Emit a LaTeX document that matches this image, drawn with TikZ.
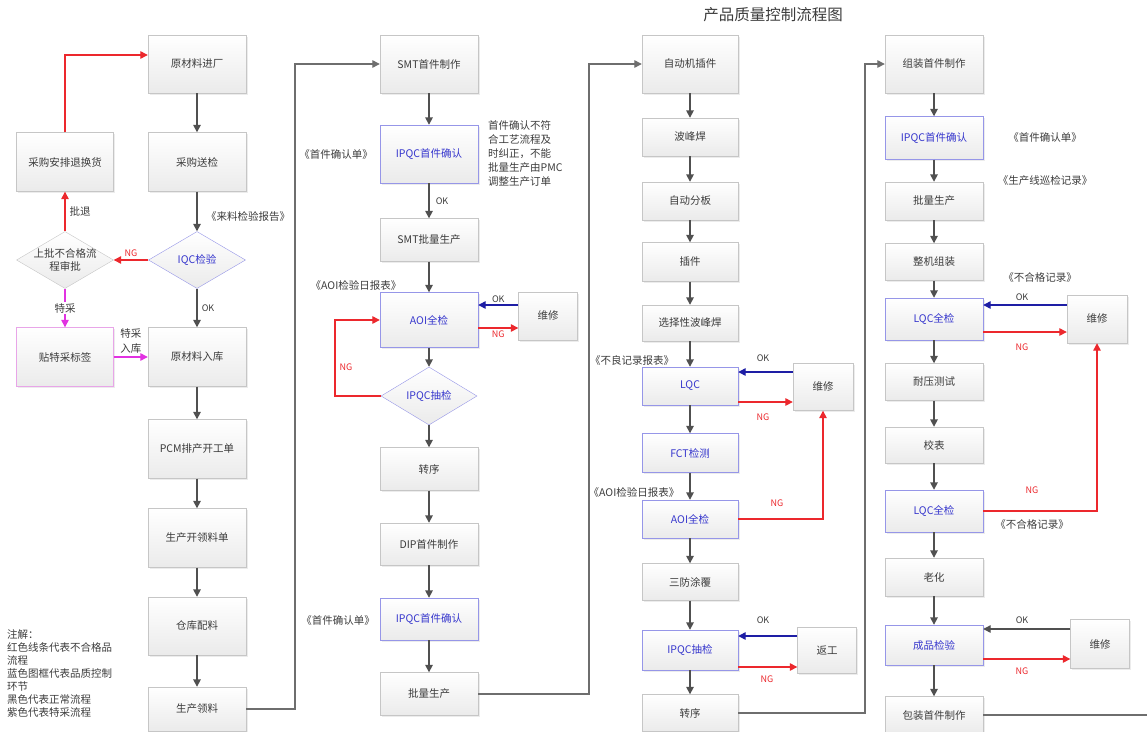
\documentclass[tikz,border=0pt]{standalone}
\usepackage{fontspec}
\setmainfont{Noto Sans CJK SC}
\usetikzlibrary{shapes.geometric,arrows.meta,shadows}

\definecolor{boxline}{RGB}{198,198,198}
\definecolor{qcline}{RGB}{150,150,232}
\definecolor{qctext}{RGB}{55,55,205}
\definecolor{txt}{RGB}{60,60,60}
\definecolor{flow}{RGB}{80,80,80}
\definecolor{ngred}{RGB}{236,40,45}
\definecolor{okblue}{RGB}{30,30,165}
\definecolor{tcpink}{RGB}{225,50,225}
\definecolor{tcline}{RGB}{232,165,232}
\definecolor{linkgray}{RGB}{110,110,110}

\tikzset{
  box/.style={draw=boxline, top color=white, bottom color=gray!16, text=txt,
    minimum width=98pt, inner sep=2pt, font=\fontsize{10.5}{12}\selectfont,
    drop shadow={opacity=0.15, shadow xshift=1.5pt, shadow yshift=-1.5pt}},
  qcbox/.style={box, draw=qcline, text=qctext},
  tcbox/.style={box, draw=tcline},
  judge/.style={diamond, aspect=1.7, draw=boxline, top color=white, bottom color=gray!16,
    text=txt, inner sep=0pt, inner xsep=-14pt, minimum width=97pt, minimum height=57pt,
    align=center, font=\fontsize{10.5}{13}\selectfont},
  flowarrow/.style={draw=flow, line width=1.6pt, -{Triangle[width=7.5pt,length=7.5pt]}},
  ngarrow/.style={draw=ngred, line width=1.3pt, -{Triangle[width=7.5pt,length=7.5pt]}},
  okarrow/.style={draw=okblue, line width=1.3pt, -{Triangle[width=7.5pt,length=7.5pt]}},
  tcarrow/.style={draw=tcpink, line width=1.3pt, -{Triangle[width=7.5pt,length=7.5pt]}},
  link/.style={draw=linkgray, line width=1.3pt},
  linkarrow/.style={link, -{Triangle[width=7.5pt,length=7.5pt]}},
  note/.style={text=txt, inner sep=1pt, font=\fontsize{10.5}{12}\selectfont},
  nglabel/.style={text=ngred, inner sep=1pt, font=\fontsize{9}{10}\selectfont},
  oklabel/.style={text=txt, inner sep=1pt, font=\fontsize{9}{10}\selectfont}
}

\begin{document}
\begin{tikzpicture}[x=1pt,y=-1pt]
\fill[white] (0,0) rectangle (1147,731);
\useasboundingbox (0,0) rectangle (1147,731);

\node[text=txt, font=\fontsize{15.5}{18}\selectfont] (title) at (773,15) {产品质量控制流程图};

\node[box, minimum height=58pt] (ycl) at (197,64) {原材料进厂};
\node[box, minimum height=59pt] (cgsj) at (197,162) {采购送检};
\node[box, minimum width=97pt, minimum height=59pt] (cgth) at (65,162) {采购安排退换货};
\node[judge, draw=qcline, text=qctext] (iqc) at (197,260) {IQC检验};
\node[judge] (spsp) at (65,260) {上批不合格流\\程审批};
\node[tcbox, minimum width=97pt, minimum height=59pt] (ttbq) at (65,357) {贴特采标签};
\node[box, minimum height=59pt] (ycrk) at (197,357) {原材料入库};
\node[box, minimum height=59pt] (pcm) at (197,449) {PCM排产开工单};
\node[box, minimum height=59pt] (kld) at (197,538) {生产开领料单};
\node[box, minimum height=58pt] (ckpl) at (197,626) {仓库配料};
\node[box, minimum height=44pt] (scll) at (197,709) {生产领料};
\node[note] (lljy) at (248,217) {《来料检验报告》};
\node[note, anchor=north west, align=left, font=\fontsize{10.5}{13}\selectfont] (zhujie) at (6,628)
  {注解：\\红色线条代表不合格品\\流程\\蓝色图框代表品质控制\\环节\\黑色代表正常流程\\紫色代表特采流程};

\draw[flowarrow] (ycl.south) -- (cgsj.north);
\draw[flowarrow] (cgsj.south) -- (iqc.north);
\draw[flowarrow] (iqc.south) -- (ycrk.north) node[oklabel, midway, right=3pt] {OK};
\draw[ngarrow] (iqc.west) -- (spsp.east) node[nglabel, midway, above=2pt] {NG};
\draw[ngarrow] (spsp.north) -- (cgth.south) node[note, midway, right=3pt] {批退};
\draw[ngarrow] (cgth.north) |- ([yshift=9pt]ycl.west);
\draw[tcarrow] (spsp.south) -- (ttbq.north) node[note, midway, fill=white] {特采};
\draw[tcarrow] (ttbq.east) -- (ycrk.west) node[note, midway, above=2pt, align=center, font=\fontsize{10.5}{15}\selectfont] {特采\\入库};
\draw[flowarrow] (ycrk.south) -- (pcm.north);
\draw[flowarrow] (pcm.south) -- (kld.north);
\draw[flowarrow] (kld.south) -- (ckpl.north);
\draw[flowarrow] (ckpl.south) -- (scll.north);

\node[box, minimum height=58pt] (smtsj) at (429,64) {SMT首件制作};
\node[qcbox, minimum height=58pt] (ipqcsj) at (429,154) {IPQC首件确认};
\node[box, minimum height=43pt] (smtpl) at (429,240) {SMT批量生产};
\node[qcbox, minimum height=55pt] (aoiqj) at (429,320) {AOI全检};
\node[box, minimum width=59pt, minimum height=48pt] (wxa) at (548,316) {维修};
\node[judge, draw=qcline, text=qctext, minimum width=96pt, minimum height=58pt] (ipqccj) at (429,396) {IPQC抽检};
\node[box, minimum height=43pt] (zxa) at (429,469) {转序};
\node[box, minimum height=42pt] (dipsj) at (429,544) {DIP首件制作};
\node[qcbox, minimum height=42pt] (ipqcqr) at (429,619) {IPQC首件确认};
\node[box, minimum height=43pt] (plsca) at (429,694) {批量生产};
\node[note] (qrda) at (336,155) {《首件确认单》};
\node[note] (aoirb) at (356,285) {《AOI检验日报表》};
\node[note] (qrdb) at (338,620) {《首件确认单》};
\node[note, anchor=north west, align=left, font=\fontsize{10.5}{14}\selectfont] (smsm) at (487,119)
  {首件确认不符\\合工艺流程及\\时纠正，不能\\批量生产由PMC\\调整生产订单};
\coordinate (zza) at (295,64);
\coordinate (fxa) at (335,320);

\draw[linkarrow] (scll.east) -| (zza) -- (smtsj.west);
\draw[flowarrow] (smtsj.south) -- (ipqcsj.north);
\draw[flowarrow] (ipqcsj.south) -- (smtpl.north) node[oklabel, midway, right=5pt] {OK};
\draw[flowarrow] (smtpl.south) -- (aoiqj.north);
\draw[flowarrow] (aoiqj.south) -- (ipqccj.north);
\draw[flowarrow] (ipqccj.south) -- (zxa.north);
\draw[flowarrow] (zxa.south) -- (dipsj.north);
\draw[flowarrow] (dipsj.south) -- (ipqcqr.north);
\draw[flowarrow] (ipqcqr.south) -- (plsca.north);
\draw[okarrow] ([yshift=15pt]aoiqj.east -| wxa.west) -- ([yshift=15pt]aoiqj.east) node[oklabel, midway, above=1pt] {OK};
\draw[ngarrow] ([yshift=-8pt]aoiqj.east) -- ([yshift=-8pt]aoiqj.east -| wxa.west) node[nglabel, midway, below=1pt] {NG};
\draw[ngarrow] (ipqccj.west) -| (fxa) -- (aoiqj.west);
\node[nglabel] (nga) at (346,367) {NG};

\node[box, minimum width=96pt, minimum height=58pt] (zdjcj) at (690,64) {自动机插件};
\node[box, minimum width=96pt, minimum height=38pt] (bfh) at (690,137) {波峰焊};
\node[box, minimum width=96pt, minimum height=38pt] (zdfb) at (690,201) {自动分板};
\node[box, minimum width=96pt, minimum height=39pt] (chaj) at (690,262) {插件};
\node[box, minimum width=96pt, minimum height=36pt] (xzbfh) at (690,323) {选择性波峰焊};
\node[qcbox, minimum width=96pt, minimum height=38pt] (lqc) at (690,386) {LQC};
\node[box, minimum width=60pt, minimum height=47pt] (wxb) at (823,387) {维修};
\node[qcbox, minimum width=96pt, minimum height=39pt] (fct) at (690,453) {FCT检测};
\node[qcbox, minimum width=96pt, minimum height=38pt] (aoiqjb) at (690,519) {AOI全检};
\node[box, minimum width=96pt, minimum height=37pt] (sfty) at (690,582) {三防涂覆};
\node[qcbox, minimum width=96pt, minimum height=40pt] (ipqccjb) at (690,650) {IPQC抽检};
\node[box, minimum width=59pt, minimum height=46pt] (fangong) at (827,650) {返工};
\node[box, minimum width=96pt, minimum height=37pt] (zxb) at (690,713) {转序};
\node[note] (blbb) at (632,360) {《不良记录报表》};
\node[note] (aoirbb) at (634,492) {《AOI检验日报表》};
\coordinate (zzb) at (589,64);

\draw[linkarrow] (plsca.east) -| (zzb) -- (zdjcj.west);
\draw[flowarrow] (zdjcj.south) -- (bfh.north);
\draw[flowarrow] (bfh.south) -- (zdfb.north);
\draw[flowarrow] (zdfb.south) -- (chaj.north);
\draw[flowarrow] (chaj.south) -- (xzbfh.north);
\draw[flowarrow] (xzbfh.south) -- (lqc.north);
\draw[flowarrow] (lqc.south) -- (fct.north);
\draw[flowarrow] (fct.south) -- (aoiqjb.north);
\draw[flowarrow] (aoiqjb.south) -- (sfty.north);
\draw[flowarrow] (sfty.south) -- (ipqccjb.north);
\draw[flowarrow] (ipqccjb.south) -- (zxb.north);
\draw[okarrow] ([yshift=14pt]lqc.east -| wxb.west) -- ([yshift=14pt]lqc.east);
\draw[ngarrow] ([yshift=-16pt]lqc.east) -- ([yshift=-16pt]lqc.east -| wxb.west);
\draw[ngarrow] (aoiqjb.east) -| (wxb.south);
\draw[okarrow] ([yshift=14pt]ipqccjb.east -| fangong.west) -- ([yshift=14pt]ipqccjb.east);
\draw[ngarrow] ([yshift=-17pt]ipqccjb.east) -- ([yshift=-17pt]ipqccjb.east -| fangong.west);
\node[oklabel] (okb) at (763,358) {OK};
\node[nglabel] (ngb) at (763,417) {NG};
\node[nglabel] (ngc) at (777,503) {NG};
\node[oklabel] (okc) at (763,620) {OK};
\node[nglabel] (ngd) at (767,679) {NG};

\node[box, minimum height=58pt] (zzsj) at (934,64) {组装首件制作};
\node[qcbox, minimum height=43pt] (ipqcsjb) at (934,138) {IPQC首件确认};
\node[box, minimum height=38pt] (plscb) at (934,201) {批量生产};
\node[box, minimum height=37pt] (zjzz) at (934,262) {整机组装};
\node[qcbox, minimum height=42pt] (lqcqj) at (934,319) {LQC全检};
\node[box, minimum width=60pt, minimum height=48pt] (wxc) at (1097,319) {维修};
\node[box, minimum height=37pt] (nycs) at (934,382) {耐压测试};
\node[box, minimum height=36pt] (jiaob) at (934,445) {校表};
\node[qcbox, minimum height=42pt] (lqcqjb) at (934,511) {LQC全检};
\node[box, minimum height=38pt] (laoh) at (934,577) {老化};
\node[qcbox, minimum height=40pt] (cpjy) at (934,645) {成品检验};
\node[box, minimum width=59pt, minimum height=49pt] (wxd) at (1100,644) {维修};
\node[box, minimum height=37pt] (bzsj) at (934,715) {包装首件制作};
\node[note] (qrdc) at (1045,138) {《首件确认单》};
\node[note] (xjjl) at (1045,181) {《生产线巡检记录》};
\node[note] (bhga) at (1040,278) {《不合格记录》};
\node[note] (bhgb) at (1032,525) {《不合格记录》};
\coordinate (zzc) at (865,64);
\coordinate (zzd) at (1147,715);

\draw[linkarrow] (zxb.east) -| (zzc) -- (zzsj.west);
\draw[flowarrow] (zzsj.south) -- (ipqcsjb.north);
\draw[flowarrow] (ipqcsjb.south) -- (plscb.north);
\draw[flowarrow] (plscb.south) -- (zjzz.north);
\draw[flowarrow] (zjzz.south) -- (lqcqj.north);
\draw[flowarrow] (lqcqj.south) -- (nycs.north);
\draw[flowarrow] (nycs.south) -- (jiaob.north);
\draw[flowarrow] (jiaob.south) -- (lqcqjb.north);
\draw[flowarrow] (lqcqjb.south) -- (laoh.north);
\draw[flowarrow] (laoh.south) -- (cpjy.north);
\draw[flowarrow] (cpjy.south) -- (bzsj.north);
\draw[okarrow] ([yshift=14pt]lqcqj.east -| wxc.west) -- ([yshift=14pt]lqcqj.east);
\draw[ngarrow] ([yshift=-13pt]lqcqj.east) -- ([yshift=-13pt]lqcqj.east -| wxc.west);
\draw[ngarrow] (lqcqjb.east) -| (wxc.south);
\draw[flowarrow, line width=1.3pt] ([yshift=16pt]cpjy.east -| wxd.west) -- ([yshift=16pt]cpjy.east);
\draw[ngarrow] ([yshift=-14pt]cpjy.east) -- ([yshift=-14pt]cpjy.east -| wxd.west);
\draw[link] (bzsj.east) -- (zzd);
\node[oklabel] (okd) at (1022,297) {OK};
\node[nglabel] (nge) at (1022,347) {NG};
\node[nglabel] (ngf) at (1032,490) {NG};
\node[oklabel] (oke) at (1022,620) {OK};
\node[nglabel] (ngg) at (1022,671) {NG};
\end{tikzpicture}
\end{document}
